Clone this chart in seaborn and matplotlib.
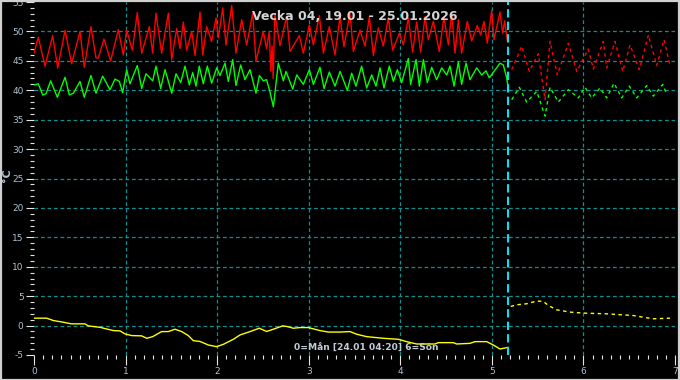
import numpy as np
import pandas as pd
import seaborn as sns
import matplotlib
matplotlib.use("Agg")
import matplotlib.pyplot as plt
from matplotlib.patches import Rectangle

# ---------------- data (days since Monday 0:00, °C) ----------------
red_obs_day = [0.000, 0.047, 0.120, 0.204, 0.259, 0.339, 0.411, 0.502, 0.549, 0.622,
               0.677, 0.703, 0.764, 0.837, 0.921, 0.975, 1.012, 1.074, 1.128, 1.176,
               1.259, 1.296, 1.332, 1.394, 1.467, 1.504, 1.558, 1.594, 1.631, 1.667,
               1.722, 1.758, 1.813, 1.842, 1.886, 1.940, 1.988, 2.013, 2.061, 2.097,
               2.159, 2.206, 2.268, 2.323, 2.388, 2.424, 2.504, 2.540, 2.570, 2.585,
               2.600, 2.612, 2.630, 2.686, 2.759, 2.796, 2.897, 2.941, 3.007, 3.051,
               3.116, 3.160, 3.225, 3.287, 3.342, 3.385, 3.451, 3.487, 3.560, 3.615,
               3.662, 3.706, 3.760, 3.815, 3.869, 3.917, 3.990, 4.033, 4.088, 4.135,
               4.179, 4.223, 4.270, 4.306, 4.361, 4.426, 4.477, 4.525, 4.561, 4.598,
               4.634, 4.670, 4.732, 4.780, 4.841, 4.878, 4.914, 4.950, 4.998, 5.023,
               5.089, 5.118, 5.140, 5.169]
red_obs_val = [46.3, 49.0, 44.1, 49.3, 43.8, 50.2, 44.5, 50.0, 43.9, 50.8,
               45.5, 45.5, 48.7, 45.0, 50.3, 46.0, 50.2, 46.8, 53.2, 46.3,
               50.8, 46.3, 53.1, 46.3, 53.1, 45.2, 50.5, 47.1, 51.6, 46.8,
               50.0, 45.9, 53.3, 46.0, 50.8, 48.3, 52.3, 48.9, 54.0, 47.7,
               54.4, 46.3, 52.0, 47.7, 53.1, 45.0, 50.0, 47.1, 50.0, 43.3,
               47.5, 42.0, 53.0, 47.6, 52.5, 46.6, 49.3, 46.3, 51.1, 47.7,
               52.7, 46.3, 50.8, 46.0, 52.5, 47.4, 53.1, 46.6, 50.2, 47.5,
               52.5, 45.9, 50.6, 47.5, 52.3, 46.8, 49.7, 47.7, 52.3, 46.5,
               51.6, 46.5, 52.5, 48.6, 51.7, 46.6, 52.5, 47.7, 53.2, 46.3,
               52.0, 46.3, 51.7, 48.4, 51.0, 49.4, 51.7, 48.0, 53.6, 48.6,
               53.3, 49.7, 51.8, 48.4]

green_obs_day = [0.000, 0.047, 0.095, 0.131, 0.182, 0.255, 0.339, 0.386, 0.430, 0.502,
                 0.549, 0.622, 0.677, 0.750, 0.830, 0.885, 0.932, 0.968, 1.012, 1.048,
                 1.128, 1.176, 1.223, 1.296, 1.332, 1.383, 1.431, 1.504, 1.551, 1.602,
                 1.649, 1.696, 1.733, 1.769, 1.805, 1.849, 1.893, 1.940, 1.995, 2.031,
                 2.086, 2.122, 2.170, 2.206, 2.257, 2.304, 2.359, 2.424, 2.461, 2.504,
                 2.540, 2.577, 2.614, 2.668, 2.723, 2.752, 2.825, 2.869, 2.941, 3.007,
                 3.051, 3.123, 3.167, 3.225, 3.287, 3.342, 3.422, 3.469, 3.516, 3.578,
                 3.633, 3.688, 3.735, 3.779, 3.822, 3.880, 3.924, 3.968, 4.015, 4.088,
                 4.113, 4.172, 4.208, 4.252, 4.295, 4.343, 4.397, 4.452, 4.507, 4.543,
                 4.587, 4.634, 4.670, 4.718, 4.761, 4.834, 4.889, 4.936, 4.972, 5.089,
                 5.125, 5.162, 5.180]
green_obs_val = [40.9, 41.1, 39.2, 39.4, 41.6, 38.8, 42.2, 39.2, 39.5, 41.5,
                 38.8, 42.5, 39.5, 42.4, 40.1, 41.9, 41.5, 39.6, 43.5, 41.1,
                 44.2, 40.3, 42.8, 41.6, 44.1, 40.3, 43.5, 39.5, 42.8, 41.3,
                 44.1, 40.9, 43.0, 40.7, 44.1, 41.1, 44.1, 41.2, 43.8, 42.5,
                 44.6, 41.5, 45.2, 40.8, 44.3, 41.8, 43.5, 39.5, 42.5, 41.6,
                 41.8, 39.7, 37.2, 44.6, 41.6, 43.2, 40.2, 42.6, 41.0, 43.5,
                 41.0, 43.9, 40.3, 43.1, 40.7, 43.2, 40.0, 42.9, 40.7, 44.1,
                 40.4, 42.6, 40.7, 43.8, 40.4, 44.1, 41.5, 43.5, 41.3, 45.4,
                 41.0, 45.2, 40.7, 45.2, 41.3, 43.9, 41.8, 43.8, 42.6, 44.1,
                 40.7, 44.8, 41.0, 44.6, 41.8, 43.8, 42.6, 43.3, 42.1, 44.6,
                 44.3, 42.1, 40.3]

yellow_obs_day = [0.000, 0.138, 0.211, 0.320, 0.411, 0.557, 0.593, 0.721, 0.866, 0.939,
                  0.994, 1.067, 1.176, 1.231, 1.296, 1.394, 1.467, 1.540, 1.613, 1.685,
                  1.740, 1.813, 1.904, 1.995, 2.067, 2.177, 2.250, 2.359, 2.460, 2.541,
                  2.613, 2.716, 2.766, 2.832, 2.905, 2.996, 3.123, 3.214, 3.342, 3.451,
                  3.524, 3.633, 3.815, 3.979, 4.070, 4.179, 4.379, 4.415, 4.579, 4.616,
                  4.761, 4.816, 4.944, 5.016, 5.089, 5.162]
yellow_obs_val = [1.26, 1.26, 0.86, 0.57, 0.29, 0.29, -0.05, -0.30, -0.85, -0.90,
                  -1.42, -1.70, -1.75, -2.16, -1.88, -1.02, -1.02, -0.62, -1.02, -1.70,
                  -2.56, -2.70, -3.30, -3.59, -3.19, -2.33, -1.59, -1.02, -0.45, -1.00,
                  -0.62, -0.05, -0.17, -0.45, -0.34, -0.34, -0.85, -1.10, -1.10, -1.02,
                  -1.47, -1.88, -2.16, -2.33, -2.73, -3.13, -3.13, -2.90, -2.90, -3.13,
                  -3.02, -2.73, -2.73, -3.30, -3.98, -3.75]

red_fc_day = [5.217, 5.326, 5.409, 5.507, 5.581, 5.635, 5.715, 5.835, 5.927, 6.053,
              6.108, 6.217, 6.254, 6.345, 6.429, 6.509, 6.610, 6.709, 6.800, 6.880, 6.945]
red_fc_val = [43.5, 47.5, 43.2, 46.2, 38.4, 48.3, 42.6, 48.0, 43.2, 47.0,
              43.6, 48.3, 43.8, 48.3, 43.2, 47.7, 43.5, 49.4, 44.2, 48.6, 44.2]

green_fc_day = [5.217, 5.300, 5.380, 5.490, 5.581, 5.635, 5.726, 5.835, 5.944, 6.017,
                6.090, 6.181, 6.254, 6.334, 6.418, 6.501, 6.582, 6.691, 6.763, 6.866, 6.910]
green_fc_val = [38.4, 40.5, 38.0, 39.8, 35.6, 40.5, 38.0, 40.1, 38.7, 40.5,
                38.7, 40.4, 38.7, 41.2, 38.7, 40.7, 38.7, 40.8, 39.0, 41.0, 39.3]

yellow_fc_day = [5.206, 5.271, 5.380, 5.490, 5.562, 5.617, 5.708, 5.853, 6.000, 6.254,
                 6.545, 6.654, 6.763, 6.945]
yellow_fc_val = [3.25, 3.53, 3.71, 4.17, 4.10, 3.42, 2.68, 2.29, 2.12, 2.00,
                 1.71, 1.42, 1.15, 1.26]

now_day = 5.18
x_ticks = [0, 1, 2, 3, 4, 5, 6, 7]
y_ticks = [-5, 0, 5, 10, 15, 20, 25, 30, 35, 40, 45, 50, 55]
title_text = "Vecka 04, 19.01 - 25.01.2026"
note_text = "0=Mån [24.01 04:20] 6=Sön"
y_label = "°C"

# ---------------- style ----------------
sns.set_theme(style="dark")
plt.rcParams["font.family"] = ["DejaVu Sans"]

label_col = "#b0c2d4"
tick_col = "#e6e6e6"
grid_col = "#0f8f8f"

fig = plt.figure(figsize=(6.8, 3.8), dpi=100)
fig.patch.set_facecolor("black")
ax = fig.add_axes([34 / 680, 1 - 355 / 380, 641 / 680, 353 / 380])
ax.set_facecolor("black")

for s in ax.spines.values():
    s.set_visible(False)

ax.set_xlim(0, 7)
ax.set_ylim(-5, 55)

# grid
for gx in x_ticks[1:-1]:
    ax.axvline(gx, color=grid_col, lw=0.9, ls=(0, (3, 2.2)), zorder=1)
for gy in y_ticks[1:-1]:
    ax.axhline(gy, color=grid_col, lw=0.9, ls=(0, (3, 2.2)), zorder=1)

lw = 1.0
dash_fc = (0, (2.5, 2.5))
sns.lineplot(x=red_obs_day, y=red_obs_val, ax=ax, color="#ff0000", lw=lw, estimator=None, sort=False, zorder=3)
sns.lineplot(x=green_obs_day, y=green_obs_val, ax=ax, color="#00ff00", lw=lw, estimator=None, sort=False, zorder=3)
sns.lineplot(x=yellow_obs_day, y=yellow_obs_val, ax=ax, color="#ffff00", lw=lw, estimator=None, sort=False, zorder=3)
sns.lineplot(x=red_fc_day, y=red_fc_val, ax=ax, color="#ff0000", lw=lw, ls=dash_fc, estimator=None, sort=False, zorder=3)
sns.lineplot(x=green_fc_day, y=green_fc_val, ax=ax, color="#00ff00", lw=lw, ls=dash_fc, estimator=None, sort=False, zorder=3)
sns.lineplot(x=yellow_fc_day, y=yellow_fc_val, ax=ax, color="#ffff00", lw=lw, ls=dash_fc, estimator=None, sort=False, zorder=3)

ax.axvline(now_day, color="#00e5ee", lw=1.5, ls=(0, (4, 2)), zorder=4)

# ticks
ax.set_xticks(x_ticks)
ax.set_xticklabels([str(t) for t in x_ticks])
ax.set_xticks(np.arange(0, 7.001, 0.1), minor=True)
ax.set_yticks(y_ticks)
ax.set_yticklabels([str(t) for t in y_ticks])
ax.set_yticks(np.arange(-5, 55.001, 1), minor=True)
ax.tick_params(axis="both", which="both", bottom=True, left=True, top=False, right=False,
               labelbottom=True, labelleft=True)
ax.tick_params(axis="both", which="major", colors=tick_col, labelcolor=label_col,
               labelsize=6.5, width=0.8, direction="out")
ax.tick_params(axis="x", which="major", length=7.2, pad=1.5)
ax.tick_params(axis="y", which="major", length=6.0, pad=1.5)
ax.tick_params(axis="both", which="minor", colors=tick_col, length=2.9, width=0.8, direction="out")
ax.grid(False)
ax.set_xlabel("")
ax.set_ylabel("")

ax.text(0.5, 0.958, title_text, transform=ax.transAxes, ha="center", va="center",
        fontsize=9, fontweight="bold", color="#d4d4d4", zorder=5)
ax.text((366 - 34) / 641, 0.018, note_text, transform=ax.transAxes, ha="center", va="center",
        fontsize=6.6, fontweight="bold", color="#c0ccd8", zorder=5)
fig.text(7 / 680, 1 - 175 / 380, y_label, rotation=90, ha="center", va="center",
         fontsize=8, fontweight="bold", color=label_col)

fig.add_artist(Rectangle((0.5 / 680, 0.5 / 380), 678.5 / 680, 378.5 / 380, transform=fig.transFigure,
                         fill=False, edgecolor="#cfcfcf", lw=1.6, clip_on=False))

fig.savefig("out.png", dpi=100, facecolor="black")
